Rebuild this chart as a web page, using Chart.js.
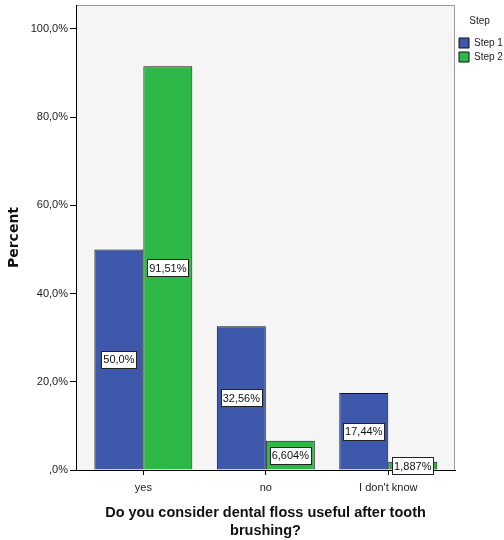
<!DOCTYPE html>
<html>
<head>
<meta charset="utf-8">
<script src="https://cdn.jsdelivr.net/npm/chart.js@4/dist/chart.umd.min.js"></script>
<style>
  html, body { margin: 0; padding: 0; background: #fff; }
  #wrap { width: 504px; height: 540px; }
</style>
</head>
<body>
<div id="wrap"><canvas id="chart" width="504" height="540"></canvas></div>
<script>
const categories = ['yes', 'no', "I don't know"];
const seriesNames = ['Step 1', 'Step 2'];
const step1 = [50.0, 32.56, 17.44];
const step2 = [91.51, 6.604, 1.887];
const yTicks = [0, 20, 40, 60, 80, 100];

const FONT = '"Liberation Sans", Arial, sans-serif';

// SPSS style: 0 -> ",0%", 20 -> "20,0%"
function tickLabel(v) {
    if (v === 0) return ',0%';
    return v.toFixed(1).replace('.', ',') + '%';
}

function barLabel(v) {
    let s = v.toPrecision(4);
    if (s.indexOf('.') >= 0) s = s.replace(/0+$/, '');
    if (s.endsWith('.')) s += '0';
    return s.replace('.', ',') + '%';
}

// light grey plot background with thin grey frame
const plotFrame = {
    id: 'plotFrame',
    beforeDraw(chart) {
        const a = chart.chartArea;
        const ctx = chart.ctx;
        ctx.save();
        ctx.fillStyle = '#f5f5f5';
        ctx.fillRect(a.left, a.top, a.right - a.left, a.bottom - a.top);
        ctx.strokeStyle = '#9a9a9a';
        ctx.lineWidth = 1;
        ctx.beginPath();
        ctx.moveTo(a.left, a.top + 0.5);
        ctx.lineTo(a.right - 0.5, a.top + 0.5);
        ctx.lineTo(a.right - 0.5, a.bottom);
        ctx.stroke();
        ctx.restore();
    }
};

// white boxed value labels in the middle of each bar
const boxLabels = {
    id: 'boxLabels',
    afterDatasetsDraw(chart) {
        const ctx = chart.ctx;
        ctx.save();
        ctx.font = '11px ' + FONT;
        ctx.textAlign = 'center';
        ctx.textBaseline = 'middle';
        chart.data.datasets.forEach((ds, i) => {
            chart.getDatasetMeta(i).data.forEach((bar, j) => {
                const text = barLabel(ds.data[j].y);
                const w = Math.round(ctx.measureText(text).width + 4);
                const h = 17;
                const cx = bar.x;
                const cy = (bar.y + bar.base) / 2;
                const x0 = Math.round(cx - w / 2) + 0.5;
                const y0 = Math.round(cy - h / 2) + 0.5;
                ctx.fillStyle = '#fff';
                ctx.fillRect(x0, y0, w, h);
                ctx.strokeStyle = '#222';
                ctx.lineWidth = 1;
                ctx.strokeRect(x0, y0, w, h);
                ctx.fillStyle = '#111';
                ctx.fillText(text, cx, cy + 1);
            });
        });
        ctx.restore();
    }
};

const ctx = document.getElementById('chart').getContext('2d');
new Chart(ctx, {
    type: 'bar',
    data: {
        datasets: [
            {
                label: seriesNames[0],
                data: step1.map((v, i) => ({ x: i, y: v })),
                backgroundColor: '#3e58ac',
                borderColor: '#111',
                borderWidth: 1
            },
            {
                label: seriesNames[1],
                data: step2.map((v, i) => ({ x: i, y: v })),
                backgroundColor: '#2eb848',
                borderColor: '#111',
                borderWidth: 1
            }
        ]
    },
    options: {
        responsive: false,
        animation: false,
        categoryPercentage: 0.8,
        barPercentage: 1.0,
        layout: { padding: { top: 5, right: 0, bottom: 0, left: 0 } },
        scales: {
            x: {
                type: 'linear',
                offset: false,
                min: -0.55,
                max: 2.545,
                afterBuildTicks(s) {
                    s.ticks = s.ticks.filter(t => Number.isInteger(t.value) && t.value >= 0 && t.value < categories.length);
                },
                afterFit(s) {
                    s.height = 70;
                    s.paddingLeft = 0;
                    s.paddingRight = 0;
                },
                ticks: {
                    stepSize: 1,
                    padding: 6,
                    color: '#222',
                    font: { family: FONT, size: 11 },
                    callback: v => categories[v]
                },
                grid: { offset: false, drawOnChartArea: false, drawTicks: true, tickLength: 5, color: '#000' },
                border: { color: '#000', width: 1 },
                title: {
                    display: true,
                    text: ['Do you consider dental floss useful after tooth', 'brushing?'],
                    color: '#111',
                    font: { family: FONT, size: 14.5, weight: 'bold', lineHeight: 1.25 },
                    padding: { top: 0, bottom: 0 }
                }
            },
            y: {
                min: 0,
                max: 105.4,
                afterBuildTicks(s) {
                    s.ticks = yTicks.map(v => ({ value: v }));
                },
                afterFit(s) {
                    s.width = 76;
                    s.paddingTop = 0;
                    s.paddingBottom = 0;
                },
                ticks: {
                    padding: 2,
                    color: '#222',
                    font: { family: FONT, size: 11 },
                    callback: v => tickLabel(v)
                },
                grid: { drawOnChartArea: false, drawTicks: true, tickLength: 6, color: '#000' },
                border: { color: '#000', width: 1 },
                title: {
                    display: true,
                    text: 'Percent',
                    color: '#111',
                    font: { family: '"DejaVu Sans", sans-serif', size: 14, weight: 'bold', lineHeight: 1.2 },
                    padding: { top: 6, bottom: 0 }
                }
            }
        },
        plugins: {
            legend: {
                position: 'right',
                align: 'start',
                maxWidth: 49,
                title: {
                    display: true,
                    text: 'Step',
                    color: '#222',
                    font: { family: FONT, size: 10 },
                    padding: { top: 11, bottom: 6 }
                },
                labels: {
                    boxWidth: 10,
                    boxHeight: 10,
                    padding: 4,
                    color: '#222',
                    font: { family: FONT, size: 10 }
                }
            },
            tooltip: { enabled: false }
        }
    },
    plugins: [plotFrame, boxLabels]
});
</script>
</body>
</html>
